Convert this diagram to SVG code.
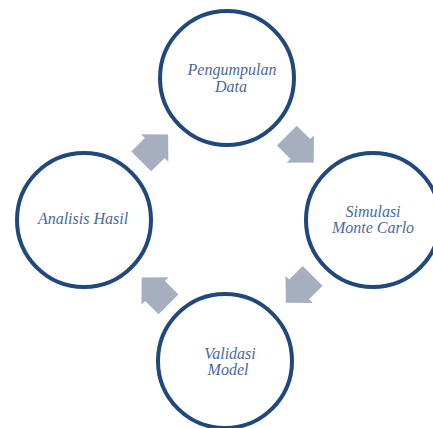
<svg xmlns="http://www.w3.org/2000/svg" width="433" height="428" viewBox="0 0 433 428">
<style>
.node{fill:#ffffff;stroke:#1f497d;stroke-width:4}
.lbl{font-family:"Liberation Serif","Times New Roman",serif;font-style:italic;font-size:16px;fill:#4a6a9c;text-anchor:middle}
.arr{fill:#a6aebf}
</style>
<defs>
<polygon id="blk" points="-19,-14 0,-14 0,-19.3 19,0 0,19.3 0,14 -19,14"/>
</defs>
<rect width="433" height="428" fill="#ffffff"/>
<g id="connectors">
<use href="#blk" class="arr" transform="translate(154.7,148) rotate(-45)"/>
<use href="#blk" class="arr" transform="translate(300.3,149) rotate(45)"/>
<use href="#blk" class="arr" transform="translate(299.2,289.4) rotate(135)"/>
<use href="#blk" class="arr" transform="translate(155.1,291) rotate(-135)"/>
</g>
<g id="node-pengumpulan">
<circle class="node" cx="227" cy="78" r="67"/>
<text class="lbl" x="232" y="75">Pengumpulan</text>
<text class="lbl" x="231" y="92">Data</text>
</g>
<g id="node-simulasi">
<circle class="node" cx="373" cy="220" r="67"/>
<text class="lbl" x="373" y="217">Simulasi</text>
<text class="lbl" x="373" y="233">Monte Carlo</text>
</g>
<g id="node-validasi">
<circle class="node" cx="225" cy="361" r="67"/>
<text class="lbl" x="230" y="359">Validasi</text>
<text class="lbl" x="228" y="375">Model</text>
</g>
<g id="node-analisis">
<circle class="node" cx="84" cy="220" r="67"/>
<text class="lbl" x="83" y="224">Analisis Hasil</text>
</g>
</svg>
